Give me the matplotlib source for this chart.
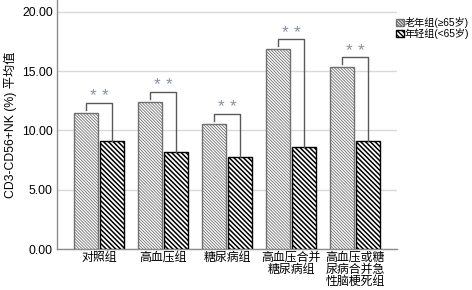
import matplotlib
matplotlib.use('Agg')
import matplotlib.pyplot as plt
from matplotlib.patches import Patch
import numpy as np

plt.rcParams['font.family'] = ['Liberation Sans', 'Noto Sans CJK SC', 'DejaVu Sans']

groups = ['对照组', '高血压组', '糖尿病组', '高血压合并\n糖尿病组', '高血压或糖\n尿病合并急\n性脑梗死组']
old = [11.48, 12.40, 10.55, 16.85, 15.33]
young = [9.11, 8.19, 7.76, 8.60, 9.11]
labels = ['老年组(≥65岁)', '年轻组(<65岁)']
yticks = [0, 5, 10, 15, 20]

old_hatch = '\\' * 11
young_hatch = '\\' * 7

fig = plt.figure(figsize=(4.72, 2.90), dpi=100)
ax = fig.add_axes([57/472, 1-249/290, 340/472, 249/290])

x = np.arange(len(groups))
w = 0.375
with plt.rc_context({'hatch.linewidth': 0.6}):
    b1 = ax.bar(x - w/2 - 0.015, old, w, color='white', edgecolor='#707070', hatch=old_hatch,
                linewidth=1.0, zorder=3)
    h1 = Patch(facecolor='white', edgecolor='#707070', hatch=old_hatch)
with plt.rc_context({'hatch.linewidth': 1.1}):
    b2 = ax.bar(x + w/2 + 0.015, young, w, color='white', edgecolor='black', hatch=young_hatch,
                linewidth=1.0, zorder=3)
    h2 = Patch(facecolor='white', edgecolor='black', hatch=young_hatch)

# significance brackets
for i in range(len(groups)):
    xl = x[i] - w/2 - 0.015
    xr = x[i] + w/2 + 0.015
    top = max(old[i], young[i]) + 0.85
    ax.plot([xl, xl, xr, xr], [old[i] + 0.25, top, top, young[i]], color='#5a5a5a', lw=1.0, zorder=4)
    for dx in (-0.09, 0.09):
        ax.text(x[i] + dx, top - 0.05, '*', ha='center', va='bottom', fontsize=12.5, color='#8593a2')

ax.set_xlim(-0.656, 4.656)
ax.set_ylim(0, 21.0)
ax.set_yticks(yticks)
ax.set_yticklabels(['%.2f' % v for v in yticks], fontsize=8.8)
ax.set_xticks(x)
ax.set_xticklabels(groups, fontsize=8.6, linespacing=1.0)
ax.tick_params(axis='y', length=0, pad=3)
ax.tick_params(axis='x', length=0, pad=2)
ax.yaxis.grid(True, color='#d9d9d9', lw=1.0, zorder=0)
ax.set_axisbelow(True)
for s in ['top', 'right']:
    ax.spines[s].set_visible(False)
for s in ['left', 'bottom']:
    ax.spines[s].set_color('#8c8c8c')
    ax.spines[s].set_linewidth(1.0)
ax.set_ylabel('CD3-CD56+NK (%) 平均值', fontsize=8.8, labelpad=4)

fig.legend([h1, h2], labels, loc='upper left', bbox_to_anchor=(396/472, 1-17/290), frameon=False,
           fontsize=7.3, handlelength=0.75, handleheight=0.75, handletextpad=0.1,
           labelspacing=0.0, borderpad=0, borderaxespad=0)

fig.savefig('out.png', dpi=100)
